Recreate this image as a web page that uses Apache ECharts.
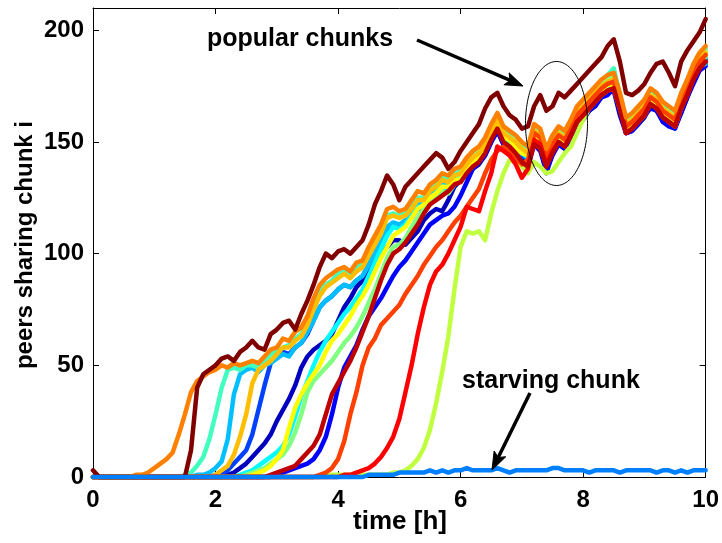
<!DOCTYPE html>
<html>
<head>
<meta charset="utf-8">
<script src="https://cdn.jsdelivr.net/npm/echarts@6/dist/echarts.min.js"></script>
<style>
html,body{margin:0;padding:0;background:#fff;}
#chart{width:722px;height:543px;}
</style>
</head>
<body>
<div id="chart"></div>
<script>
// time grid: 0 .. 10 h, step 0.1 h
const timeHours = Array.from({length: 101}, (_, i) => i / 10);
const xTicks = [0, 2, 4, 6, 8, 10];
const yTicks = [0, 50, 100, 150, 200];

// peers sharing each chunk (one value per 0.1 h)
const chunkDarkBlue = [0,0,0,0,0,0,0,0,0,0, 0,0,0,0,0,0,0,0,0,0,
  0,0,1,2,4,6,9,12,15,19, 25,30,35,41,49,54,57,59,61,64,
  70,76,80,85,88,92,97,100,103,106, 106,104,107,110,115,118,120,119,124,130,
  133,135,138,140,144,150,155,149,147,145, 142,140,150,148,136,145,149,147,152,158,
  161,164,167,170,172,173,162,154,155,158, 161,166,164,160,158,157,163,170,177,182, 185];
const chunkBlue = [0,0,0,0,0,0,0,0,0,0, 0,0,0,0,0,0,0,0,0,0,
  0,0,0,0,0,0,0,0,0,0, 1,2,3,4,5,6,8,12,18,28,
  40,49,54,59,66,72,76,80,85,90, 94,97,101,105,109,113,115,117,118,121,
  126,132,138,141,144,150,155,149,147,144, 141,139,149,146,137,144,149,147,152,158,
  160,164,166,170,171,174,164,154,155,158, 162,165,164,159,157,156,163,170,176,182, 184];
const chunkMidBlue = [0,0,0,0,0,0,0,0,0,0, 0,0,0,0,0,0,0,0,0,0,
  1,2,3,6,9,12,19,30,41,51, 54,56,55,58,60,64,70,76,79,81,
  84,86,85,88,90,95,100,105,111,113, 112,113,116,120,120,124,126,129,128,131,
  133,137,140,142,146,152,157,151,149,147, 144,142,152,150,141,147,151,149,154,160,
  163,166,169,172,174,175,166,155,157,160, 163,168,166,162,160,158,166,172,179,184, 187];
const chunkLightBlue = [0,0,0,0,0,0,0,0,0,0, 0,0,0,0,0,0,0,1,1,2,
  4,7,17,37,46,48,49,47,50,51, 53,55,54,58,60,65,70,76,79,81,
  84,86,85,88,90,95,100,106,112,114, 113,115,118,122,122,126,128,131,130,133,
  135,139,142,144,148,154,159,153,151,149, 146,144,154,152,143,149,153,151,156,162,
  165,168,171,174,176,177,168,157,159,162, 165,170,168,164,162,160,168,174,180,184, 185];
const chunkCyan = [0,0,0,0,0,0,0,0,0,0, 0,0,0,0,0,0,0,0,0,0,
  0,0,0,0,1,2,3,5,7,9, 11,14,19,27,36,43,50,56,61,65,
  69,73,76,80,84,90,96,102,108,112, 111,113,117,121,121,125,127,130,129,132,
  134,138,141,143,147,153,158,152,150,148, 145,143,153,151,142,148,152,150,155,161,
  164,167,170,173,175,176,167,156,158,161, 164,169,167,163,161,159,167,173,180,185, 188];
const chunkAqua = [0,0,0,0,0,0,0,0,0,0, 0,0,0,0,0,1,2,5,9,17,
  28,40,48,49,48,50,50,49,52,55, 56,58,59,62,64,69,76,84,86,88,
  91,92,90,94,95,100,105,110,117,118, 117,118,121,125,125,129,131,134,133,136,
  137,142,144,147,150,156,161,156,153,151, 148,146,156,154,146,151,156,154,159,164,
  168,171,174,177,180,183,171,160,162,165, 168,173,171,167,165,163,171,177,184,189, 192];
const chunkLightGreen = [0,0,0,0,0,0,0,0,0,0, 0,0,0,0,0,0,0,0,0,0,
  0,0,0,0,0,1,2,3,4,6, 8,10,14,20,28,38,43,46,49,52,
  56,60,63,67,72,78,84,91,98,103, 104,107,112,116,120,124,126,128,127,131,
  136,141,143,146,149,155,161,155,152,151, 147,146,155,154,143,150,155,152,158,163,
  167,170,173,176,178,180,170,158,161,163, 167,171,170,165,164,161,170,175,183,187, 191];
const chunkYellowGreen = [0,0,0,0,0,0,0,0,0,0, 0,0,0,0,0,0,0,0,0,0,
  0,0,0,0,0,0,0,0,0,0, 0,0,0,0,0,0,0,0,1,1,
  1,1,1,1,1,1,1,1,1,2, 2,3,5,8,13,21,33,47,63,84,
  103,110,109,110,106,118,128,136,142,141, 139,136,141,139,136,137,141,145,148,154,
  160,165,168,171,173,174,165,156,156,159, 162,167,166,162,159,157,165,172,179,185, 189];
const chunkYellow = [0,0,0,0,0,0,0,0,0,0, 0,0,0,0,0,0,0,0,0,0,
  0,0,0,0,0,0,1,2,3,5, 8,12,22,31,37,42,46,50,56,61,
  64,68,72,77,81,86,92,98,103,108, 110,112,116,120,122,125,127,130,130,133,
  133,139,141,144,146,154,157,152,151,147, 145,144,152,151,143,147,153,150,156,160,
  165,166,171,172,176,175,168,155,159,160, 165,168,168,162,162,158,168,172,181,184, 189];
const chunkAmber = [0,0,0,0,0,0,0,0,0,0, 0,0,0,0,0,0,0,0,0,0,
  1,3,5,10,18,28,42,48,50,52, 55,58,58,61,63,68,75,81,85,87,
  89,91,89,92,94,99,104,109,116,117, 116,117,120,124,124,128,130,133,132,135,
  136,140,143,145,149,155,160,154,152,150, 147,145,155,153,144,150,154,152,157,163,
  166,169,172,175,177,178,169,158,160,163, 166,171,169,165,163,161,169,175,182,187, 190];
const chunkOrangeRed = [0,0,0,0,0,0,0,0,0,0, 0,0,0,0,0,0,0,0,0,0,
  0,0,0,0,0,0,0,0,0,0, 0,0,0,0,0,0,0,1,2,4,
  8,16,28,38,50,58,62,68,71,74, 77,82,86,90,95,99,103,106,110,114,
  117,121,125,129,136,142,146,148,146,143, 140,142,154,152,143,149,153,151,156,162,
  165,168,171,174,176,177,168,157,159,162, 165,170,168,164,162,160,168,174,181,186, 189];
const chunkRed = [0,0,0,0,0,0,0,0,0,0, 0,0,0,0,0,0,0,0,0,0,
  0,0,0,0,0,0,0,0,0,0, 0,0,0,0,0,0,0,0,0,0,
  0,1,1,2,3,4,6,9,13,18, 26,38,50,64,76,86,92,95,100,106,
  112,121,120,119,128,136,148,146,144,140, 134,138,151,149,140,146,150,148,153,159,
  162,165,168,171,173,174,165,154,156,159, 162,167,165,161,159,157,165,171,178,183, 186];
const chunkCrimson = [0,0,0,0,0,0,0,0,0,0, 0,0,0,0,0,0,0,0,0,0,
  0,0,0,0,0,0,0,0,0,1, 2,3,4,5,8,11,14,19,28,37,
  42,47,52,58,65,72,80,88,95,100, 102,105,109,113,118,122,124,126,128,131,
  132,136,139,141,145,151,156,150,148,145, 141,139,149,147,139,145,150,148,153,159,
  162,165,168,171,173,174,165,154,156,159, 162,167,165,161,159,157,165,171,178,183, 186];
const chunkOrange = [0,0,0,0,0,0,0,1,1,2, 4,6,8,11,19,28,38,43,45,47,
  48,50,49,51,50,51,52,51,54,57, 58,62,61,65,67,72,80,86,89,91,
  93,94,92,96,97,103,108,113,120,121, 119,120,124,128,127,131,133,136,135,138,
  139,143,146,148,152,158,163,157,155,153, 150,148,158,156,147,153,157,155,160,166,
  169,172,175,178,180,181,172,161,163,166, 169,174,172,168,166,164,172,178,185,190, 193];
const chunkMaroon = [3,0,0,0,0,0,0,0,0,0, 0,0,0,0,0,0,12,40,46,48,
  50,53,54,52,56,58,61,58,57,64, 66,69,70,66,73,79,86,94,100,98,
  101,102,100,103,106,113,122,128,135,131, 124,130,133,136,139,142,145,143,138,141,
  146,150,154,158,165,170,172,166,162,160, 156,157,166,171,164,166,172,170,173,176,
  179,182,185,188,193,196,186,172,171,173, 176,181,185,186,181,175,186,191,195,199, 205];
const chunkStarving = [0,0,0,0,0,0,0,0,0,0, 0,0,0,0,0,0,0,0,0,0,
  0,0,0,0,0,0,0,0,0,0, 0,0,0,0,0,0,0,0,0,0,
  0,0,0,0,0,1,1,1,1,1, 2,2,2,2,2,3,2,3,2,3,
  3,4,3,3,3,3,4,3,2,3, 3,3,3,3,3,4,4,3,3,3,
  3,2,3,3,3,3,2,3,3,3, 3,3,2,3,3,2,3,2,3,3, 3];

const seriesList = [
  ['#0000bf', chunkDarkBlue],
  ['#0000ff', chunkBlue],
  ['#0040ff', chunkMidBlue],
  ['#00bfff', chunkLightBlue],
  ['#00ffff', chunkCyan],
  ['#40ffbf', chunkAqua],
  ['#80ff80', chunkLightGreen],
  ['#bfff40', chunkYellowGreen],
  ['#ffff00', chunkYellow],
  ['#ffbf00', chunkAmber],
  ['#ff4000', chunkOrangeRed],
  ['#ff0000', chunkRed],
  ['#bf0000', chunkCrimson],
  ['#ff8000', chunkOrange],
  ['#800000', chunkMaroon],
  ['#0080ff', chunkStarving]
];
seriesList.forEach(([c, a], k) => {
  if (a.length !== timeHours.length) throw new Error('series ' + k + ' (' + c + ') has ' + a.length + ' values');
});

const FONT = '"Liberation Sans", Arial, Helvetica, sans-serif';
const chart = echarts.init(document.getElementById('chart'), null, {renderer: 'canvas'});

// annotation helpers (pixel geometry of arrows / ellipse)
function arrow(x1, y1, x2, y2) {
  const dx = x2 - x1, dy = y2 - y1, L = Math.hypot(dx, dy);
  const ux = dx / L, uy = dy / L, px = -uy, py = ux;
  const hl = 18, hw = 6.5;
  const bx = x2 - hl * ux, by = y2 - hl * uy;
  const nx = x2 - (hl - 4) * ux, ny = y2 - (hl - 4) * uy;
  return [
    {type: 'line', shape: {x1: x1, y1: y1, x2: nx, y2: ny}, style: {stroke: '#000', lineWidth: 3.5}, z: 100},
    {type: 'polygon', shape: {points: [[x2, y2], [bx + hw * px, by + hw * py], [nx, ny], [bx - hw * px, by - hw * py]]},
     style: {fill: '#000', stroke: '#000', lineWidth: 1}, z: 100}
  ];
}
const ellPts = [];
for (let k = 0; k < 120; k++) {
  const a = k / 120 * Math.PI * 2;
  ellPts.push([556.5 + 31 * Math.cos(a), 123.5 + 62 * Math.sin(a)]);
}

const option = {
  animation: false,
  backgroundColor: '#fff',
  grid: {left: 93, right: 15, top: 8, bottom: 66, containLabel: false},
  xAxis: [
    {type: 'value', min: 0, max: 10, interval: 2, position: 'bottom',
     axisLine: {show: true, onZero: false, lineStyle: {color: '#000', width: 1}},
     axisTick: {show: true, inside: true, length: 6, lineStyle: {color: '#000'}},
     axisLabel: {show: true, margin: 11, color: '#000', fontSize: 24, fontWeight: 'bold', fontFamily: FONT},
     splitLine: {show: false}},
    {type: 'value', min: 0, max: 10, interval: 2, position: 'top',
     axisLine: {show: true, onZero: false, lineStyle: {color: '#000', width: 1}},
     axisTick: {show: true, inside: true, length: 6, lineStyle: {color: '#000'}},
     axisLabel: {show: false}, splitLine: {show: false}}
  ],
  yAxis: [
    {type: 'value', min: 0, max: 210, position: 'left',
     axisLine: {show: true, onZero: false, lineStyle: {color: '#000', width: 1}},
     axisTick: {show: true, inside: true, length: 6, customValues: yTicks, lineStyle: {color: '#000'}},
     axisLabel: {show: true, margin: 9, customValues: yTicks, color: '#000', fontSize: 24, fontWeight: 'bold', fontFamily: FONT},
     splitLine: {show: false}},
    {type: 'value', min: 0, max: 210, position: 'right',
     axisLine: {show: true, onZero: false, lineStyle: {color: '#000', width: 1}},
     axisTick: {show: true, inside: true, length: 6, customValues: yTicks, lineStyle: {color: '#000'}},
     axisLabel: {show: false}, splitLine: {show: false}}
  ],
  series: seriesList.map(([c, arr]) => ({
    type: 'line',
    xAxisIndex: 0, yAxisIndex: 0,
    data: timeHours.map((t, i) => [t, arr[i]]),
    showSymbol: false, symbol: 'none',
    clip: false, silent: true,
    lineStyle: {color: c, width: 4.5, join: 'round', cap: 'round'},
    itemStyle: {color: c}
  })),
  graphic: [
    {type: 'text', x: 25, y: 245, rotation: Math.PI / 2, z: 100,
     style: {text: 'peers sharing chunk i', fill: '#000', font: 'bold 24px ' + FONT, align: 'center', verticalAlign: 'middle'}},
    {type: 'text', x: 400, y: 522, z: 100,
     style: {text: 'time [h]', fill: '#000', font: 'bold 26px ' + FONT, align: 'center', verticalAlign: 'middle'}},
    {type: 'text', x: 207, y: 39, z: 100,
     style: {text: 'popular chunks', fill: '#000', font: 'bold 25px ' + FONT, align: 'left', verticalAlign: 'middle'}},
    {type: 'text', x: 462, y: 381, z: 100,
     style: {text: 'starving chunk', fill: '#000', font: 'bold 25px ' + FONT, align: 'left', verticalAlign: 'middle'}},
    {type: 'polygon', shape: {points: ellPts}, style: {fill: 'none', stroke: '#000', lineWidth: 1}, z: 100},
    ...arrow(417, 40, 523, 86),
    ...arrow(530, 393, 492, 470)
  ]
};
chart.setOption(option);
</script>
</body>
</html>
